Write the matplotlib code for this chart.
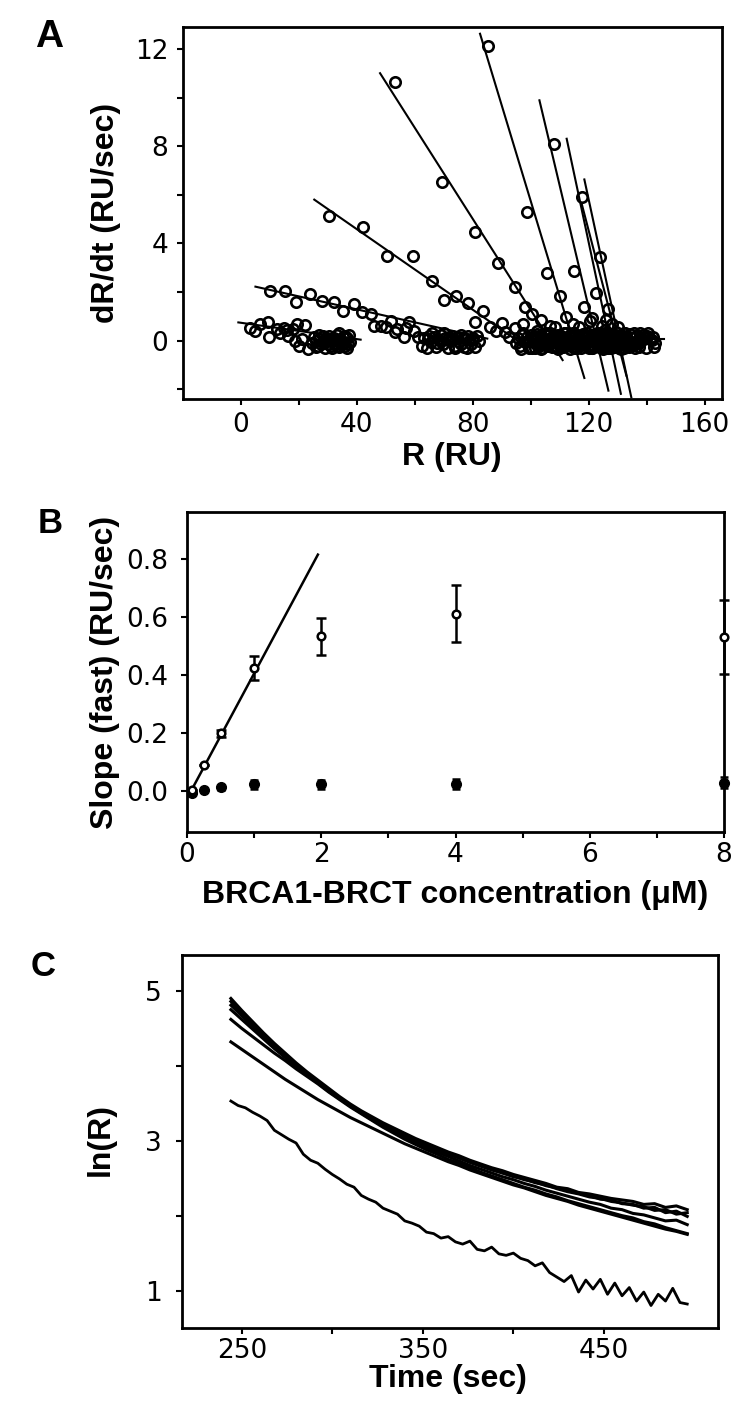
import matplotlib.pyplot as plt
import numpy as np

plt.rcParams['font.family'] = ['Liberation Sans', 'DejaVu Sans']

W, H = 755, 1408

# ---------- panel A data: dR/dt vs R for each concentration ----------
s1_R = [3.1, 4.9, 6.6, 9.5, 9.8, 12.4, 14.7, 16.4, 18.1, 19.3, 22.2, 18.7, 19.9, 23.3, 21.0, 16.0, 13.5,
        24.5, 25.3, 26.0, 26.8, 27.5, 28.2, 28.9, 29.6, 30.3, 31.0, 31.7, 32.4, 33.1, 33.8, 34.5, 35.2,
        35.9, 36.6, 37.3, 37.8, 29.2, 31.5, 33.5, 35.5, 36.5, 27.0, 30.0, 34.0, 37.0, 25.8,
        28.5, 32.0, 34.8, 36.0, 30.8, 26.5, 33.0]
s1_dR = [0.52, 0.38, 0.69, 0.75, 0.14, 0.48, 0.52, 0.21, 0.48, 0.69, 0.66, 0.0, -0.2, -0.34, 0.05, 0.45, 0.3,
         -0.1, 0.15, -0.25, 0.05, -0.15, 0.2, -0.3, 0.0, 0.18, -0.22, 0.08, -0.12, 0.22, -0.28, 0.02, 0.15,
         -0.2, 0.1, 0.25, -0.05, 0.1, -0.3, 0.0, -0.1, -0.3, 0.25, -0.12, 0.3, -0.15, 0.0,
         -0.05, 0.12, -0.15, 0.2, 0.05, -0.2, -0.22]

s2_R = [10.1, 15.3, 19.1, 23.9, 28.0, 32.0, 35.1, 39.0, 41.9, 45.0, 45.9, 48.2, 51.7, 50.0, 54.0, 58.0, 56.3,
        59.8, 61.0, 53.0, 57.0,
        62.5, 63.3, 64.1, 64.9, 65.7, 66.5, 67.3, 68.1, 68.9, 69.7, 70.5, 71.3, 72.1, 72.9, 73.7, 74.5,
        75.3, 76.1, 76.9, 77.7, 78.5, 79.3, 80.1, 80.9, 81.6, 66.0, 70.0, 74.0, 78.0, 82.0,
        64.5, 67.8, 71.8, 75.8, 79.8, 69.0, 73.0, 77.0]
s2_dR = [2.06, 2.03, 1.58, 1.92, 1.62, 1.58, 1.21, 1.51, 1.19, 1.10, 0.62, 0.62, 0.82, 0.55, 0.48, 0.75, 0.14,
         0.41, 0.14, 0.35, 0.5,
         -0.2, 0.1, -0.3, 0.2, -0.05, 0.15, -0.25, 0.05, 0.25, -0.15, 0.1, -0.3, 0.0, 0.2, -0.2, 0.12,
         -0.05, 0.25, -0.28, 0.05, 0.18, -0.15, 0.1, -0.25, 0.2, 0.3, 0.3, -0.3, -0.3, 0.0,
         0.05, -0.1, 0.15, -0.12, 0.02, -0.02, 0.08, 0.1]

s3_R = [30.3, 42.0, 50.5, 59.5, 65.8, 70.0, 74.2, 78.4, 83.4, 80.9, 86.0, 90.0, 91.0, 92.6, 88.0, 94.5,
        95.5, 96.3, 97.1, 97.9, 98.7, 99.5, 100.3, 101.1, 101.9, 102.7, 103.5, 104.3, 105.1, 105.9,
        106.7, 107.5, 108.3, 109.1, 110.0, 96.8, 99.0, 101.5, 104.0, 106.2, 108.8,
        95.0, 97.5, 100.0, 102.3, 104.8, 107.0, 109.5]
s3_dR = [5.14, 4.66, 3.50, 3.50, 2.44, 1.69, 1.82, 1.55, 1.21, 0.75, 0.58, 0.71, 0.34, 0.14, 0.4, 0.5,
         0.1, -0.2, 0.25, -0.05, 0.15, -0.3, 0.05, 0.2, -0.15, 0.0, -0.35, 0.12, 0.22, -0.1,
         0.05, -0.25, 0.15, -0.05, 0.1, -0.35, 0.0, -0.3, -0.15, 0.3, -0.28,
         -0.1, 0.3, 0.25, 0.28, -0.05, 0.0, 0.25]

s4_R = [53.0, 69.4, 80.9, 88.8, 94.5, 98.1, 100.4, 103.4, 102.0, 106.8, 97.5, 105.0,
        100.5, 101.5, 102.5, 103.5, 104.5, 105.5, 106.5, 107.5, 108.5, 109.5, 110.5, 111.5, 112.5,
        113.5, 114.5, 115.5, 116.5, 117.5, 118.5, 103.0, 107.0, 111.0, 115.0,
        101.0, 104.0, 106.0, 108.0, 110.0, 112.0, 114.0, 116.0, 118.0]
s4_dR = [10.63, 6.54, 4.46, 3.18, 2.22, 1.40, 1.10, 0.85, 0.41, 0.62, 0.7, 0.3,
         -0.3, 0.15, -0.1, 0.25, 0.0, -0.2, 0.3, -0.05, 0.1, -0.35, 0.2, 0.0, -0.15,
         0.25, -0.25, 0.05, 0.15, -0.1, 0.0, -0.2, 0.12, -0.28, 0.3,
         0.05, -0.3, -0.1, 0.25, -0.1, 0.3, -0.05, -0.3, 0.28]

s5_R = [85.4, 98.8, 105.5, 110.2, 112.1, 108.5, 114.5,
        108.0, 109.2, 110.4, 111.6, 112.8, 114.0, 115.2, 116.4, 117.6, 118.8, 120.0, 121.2, 122.4,
        123.6, 124.8, 126.0, 127.2, 128.2, 113.4, 119.4, 125.4,
        109.8, 112.2, 114.6, 117.0, 119.4, 121.8, 124.2, 126.6]
s5_dR = [12.11, 5.28, 2.77, 1.85, 0.96, 0.55, 0.7,
         0.2, -0.25, 0.05, 0.3, -0.1, 0.15, -0.3, 0.0, 0.22, -0.18, 0.08, -0.32, 0.18,
         -0.05, 0.25, -0.2, 0.1, 0.0, -0.35, 0.3, -0.32,
         0.0, -0.2, 0.28, -0.12, -0.05, 0.1, -0.3, 0.3]

s6_R = [108.1, 115.0, 118.5, 120.5, 116.5,
        114.0, 115.1, 116.2, 117.3, 118.4, 119.5, 120.6, 121.7, 122.8, 123.9, 125.0, 126.1, 127.2,
        128.3, 129.4, 130.5, 131.6, 132.7, 121.0, 126.5, 131.0,
        114.6, 116.8, 119.0, 121.2, 123.4, 125.6, 127.8, 130.0, 132.2]
s6_dR = [8.07, 2.88, 1.37, 0.8, 0.55,
         -0.15, 0.2, 0.0, -0.3, 0.28, -0.05, 0.12, -0.22, 0.3, 0.02, -0.35, 0.15, -0.1,
         0.25, -0.25, 0.05, 0.2, -0.12, 0.05, -0.3, -0.35,
         0.3, -0.2, 0.18, -0.32, -0.1, 0.28, 0.05, -0.15, 0.3]

s7_R = [117.6, 122.4, 121.0, 124.5, 126.0,
        119.0, 120.1, 121.2, 122.3, 123.4, 124.5, 125.6, 126.7, 127.8, 128.9, 130.0, 131.1, 132.2,
        133.3, 134.4, 135.5, 136.6, 137.7, 129.5, 134.0, 136.0,
        119.6, 121.8, 124.0, 126.2, 128.4, 130.6, 132.8, 135.0, 137.2]
s7_dR = [5.90, 1.96, 0.95, 0.6, 0.85,
         0.1, -0.3, 0.25, -0.05, 0.15, -0.2, 0.3, 0.0, -0.28, 0.18, -0.1, 0.22, -0.32,
         0.08, 0.28, -0.18, 0.0, 0.15, 0.35, -0.05, -0.3,
         -0.2, 0.1, 0.32, -0.15, 0.05, -0.3, 0.15, -0.1, -0.25]

s8_R = [123.9, 126.8, 128.0, 130.0, 125.5,
        123.0, 124.2, 125.4, 126.6, 127.8, 129.0, 130.2, 131.4, 132.6, 133.8, 135.0, 136.2, 137.4,
        138.6, 139.8, 141.0, 142.2, 143.0, 138.0, 140.5, 142.6, 135.6,
        123.6, 125.8, 128.2, 130.8, 133.2, 135.4, 137.8, 140.2, 142.0]
s8_dR = [3.46, 1.30, 0.7, 0.55, 0.45,
         -0.2, 0.3, -0.05, 0.12, -0.3, 0.22, 0.0, -0.15, 0.3, -0.25, 0.1, 0.2, -0.1,
         0.25, -0.3, 0.05, 0.15, -0.1, 0.0, 0.3, -0.25, 0.32,
         0.1, -0.3, 0.05, 0.25, 0.1, -0.18, 0.3, 0.2, 0.02]

# linear fits: slope, intercept, R range
fit_slope = [-0.0168, -0.0267, -0.0828, -0.1873, -0.3933, -0.5017, -0.561, -0.553, -0.4584, 0.0]
fit_icpt = [0.735, 2.354, 7.895, 19.99, 45.07, 61.56, 71.36, 72.16, 59.53, 0.07]
fit_start = [-0.9, 5.0, 25.3, 48.0, 82.5, 103.0, 112.4, 118.5, 117.6, 100.0]
fit_end = [41.3, 85.0, 97.0, 111.0, 118.5, 126.8, 131.1, 134.7, 133.0, 146.0]

# ---------- panel B data ----------
conc = [0.08, 0.25, 0.5, 1, 2, 4, 8]
fast = [0.003, 0.09, 0.20, 0.424, 0.533, 0.611, 0.53]
fast_err = [0.0, 0.0, 0.012, 0.04, 0.063, 0.097, 0.128]
slow = [-0.006, 0.006, 0.013, 0.024, 0.024, 0.025, 0.03]
slow_err = [0.005, 0.006, 0.008, 0.015, 0.015, 0.018, 0.02]
b_fit_slope, b_fit_icpt = 0.43, -0.025
b_fit_range = [0.02, 1.95]

# ---------- panel C data: ln(R) traces ----------
t = [244, 250, 256, 262, 268, 274, 280, 286, 292, 298, 304, 310, 316, 322, 328, 334, 340, 346, 352,
     358, 364, 370, 376, 382, 388, 394, 400, 406, 412, 418, 424, 430, 436, 442, 448, 454, 460, 466,
     472, 478, 484, 490, 496]
c1 = [4.90, 4.74, 4.59, 4.44, 4.30, 4.17, 4.04, 3.92, 3.81, 3.70, 3.59, 3.49, 3.40, 3.32, 3.24, 3.17,
      3.10, 3.03, 2.97, 2.91, 2.85, 2.80, 2.74, 2.69, 2.64, 2.60, 2.55, 2.51, 2.47, 2.43, 2.38, 2.36,
      2.31, 2.29, 2.26, 2.23, 2.21, 2.19, 2.15, 2.16, 2.11, 2.13, 2.08]
c2 = [4.86, 4.71, 4.56, 4.42, 4.28, 4.15, 4.02, 3.90, 3.79, 3.68, 3.57, 3.47, 3.38, 3.30, 3.22, 3.14,
      3.07, 3.00, 2.94, 2.88, 2.82, 2.77, 2.71, 2.66, 2.61, 2.57, 2.52, 2.49, 2.44, 2.41, 2.36, 2.32,
      2.29, 2.25, 2.23, 2.19, 2.17, 2.14, 2.12, 2.07, 2.08, 2.02, 2.04]
c3 = [4.81, 4.67, 4.53, 4.39, 4.26, 4.13, 4.01, 3.89, 3.78, 3.67, 3.57, 3.47, 3.38, 3.29, 3.22, 3.14,
      3.07, 3.01, 2.95, 2.88, 2.83, 2.77, 2.72, 2.67, 2.62, 2.57, 2.53, 2.48, 2.45, 2.40, 2.37, 2.33,
      2.30, 2.27, 2.22, 2.21, 2.16, 2.15, 2.10, 2.11, 2.04, 2.06, 1.99]
c4 = [4.75, 4.62, 4.49, 4.36, 4.23, 4.11, 3.99, 3.88, 3.77, 3.66, 3.56, 3.46, 3.37, 3.28, 3.20, 3.12,
      3.05, 2.98, 2.91, 2.85, 2.79, 2.73, 2.67, 2.62, 2.57, 2.52, 2.48, 2.43, 2.39, 2.34, 2.30, 2.26,
      2.22, 2.18, 2.15, 2.10, 2.08, 2.03, 2.01, 1.97, 1.93, 1.94, 1.88]
c5 = [4.62, 4.50, 4.39, 4.28, 4.17, 4.07, 3.96, 3.86, 3.76, 3.65, 3.55, 3.45, 3.36, 3.27, 3.18, 3.10,
      3.02, 2.95, 2.88, 2.82, 2.75, 2.70, 2.64, 2.58, 2.53, 2.48, 2.43, 2.38, 2.34, 2.29, 2.25, 2.20,
      2.16, 2.12, 2.08, 2.04, 2.00, 1.97, 1.92, 1.89, 1.84, 1.80, 1.76]
c6 = [4.32, 4.22, 4.12, 4.02, 3.92, 3.82, 3.73, 3.64, 3.55, 3.47, 3.39, 3.31, 3.24, 3.17, 3.10, 3.03,
      2.96, 2.90, 2.84, 2.78, 2.72, 2.67, 2.61, 2.56, 2.51, 2.46, 2.41, 2.37, 2.32, 2.27, 2.23, 2.19,
      2.14, 2.10, 2.06, 2.02, 1.98, 1.94, 1.90, 1.86, 1.82, 1.79, 1.75]
# lowest trace is noisier, read on a finer time grid
t7 = [244, 248, 252, 256, 260, 264, 268, 272, 276, 280, 284, 288, 292, 296, 300, 304, 308, 312, 316,
      320, 324, 328, 332, 336, 340, 344, 348, 352, 356, 360, 364, 368, 372, 376, 380, 384, 388, 392,
      396, 400, 404, 408, 412, 416, 420, 424, 428, 432, 436, 440, 444, 448, 452, 456, 460, 464, 468,
      472, 476, 480, 484, 488, 492, 496]
c7 = [3.53, 3.47, 3.44, 3.38, 3.33, 3.27, 3.14, 3.08, 3.02, 2.97, 2.82, 2.74, 2.70, 2.62, 2.55, 2.49,
      2.42, 2.38, 2.27, 2.22, 2.18, 2.10, 2.06, 2.02, 1.93, 1.90, 1.86, 1.78, 1.76, 1.70, 1.72, 1.65,
      1.62, 1.66, 1.55, 1.53, 1.58, 1.49, 1.47, 1.50, 1.43, 1.40, 1.33, 1.37, 1.24, 1.18, 1.12, 1.20,
      0.98, 1.14, 1.02, 1.15, 0.95, 1.10, 0.93, 1.04, 0.86, 0.98, 0.80, 0.95, 0.86, 1.03, 0.84, 0.82]

TICK_FONT = 'DejaVu Sans'
TICK_FS = 19
LABEL_FS = 23


def axes_at(left, top, right, bottom):
    return fig.add_axes([left / W, 1 - bottom / H, (right - left) / W, (bottom - top) / H])


def style(ax, pad_x, pad_y):
    for sp in ax.spines.values():
        sp.set_linewidth(2)
    ax.tick_params(which='both', direction='out', width=1.5, length=4.5, labelsize=TICK_FS)
    ax.tick_params(axis='x', pad=pad_x)
    ax.tick_params(axis='y', pad=pad_y)
    for lab in ax.get_xticklabels() + ax.get_yticklabels():
        lab.set_family(TICK_FONT)


def ftext(x, y, s, **kw):
    fig.text(x / W, 1 - y / H, s, ha='center', va='center', **kw)


fig = plt.figure(figsize=(W / 100, H / 100), dpi=100)

# ---------------- A ----------------
axA = axes_at(183, 27, 722, 399)
series = [(s1_R, s1_dR), (s2_R, s2_dR), (s3_R, s3_dR), (s4_R, s4_dR),
          (s5_R, s5_dR), (s6_R, s6_dR), (s7_R, s7_dR), (s8_R, s8_dR)]
for k, b, x0, x1 in zip(fit_slope, fit_icpt, fit_start, fit_end):
    xs = np.array([x0, x1])
    axA.plot(xs, b + k * xs, color='black', lw=1.5, zorder=2)
for R, dR in series:
    axA.plot(R, dR, linestyle='none', marker='o', ms=7.5, mfc='none', mec='black', mew=1.9, zorder=3)
axA.set_xlim(-20, 166)
axA.set_ylim(-2.4, 12.9)
axA.set_xticks([0, 40, 80, 120, 160])
axA.set_xticks([20, 60, 100, 140], minor=True)
axA.set_yticks([0, 4, 8, 12])
axA.set_yticks([-2, 2, 6, 10], minor=True)
style(axA, 5, 6)
ftext(106, 213, 'dR/dt (RU/sec)', rotation=90, fontsize=LABEL_FS, fontweight='bold')
ftext(452, 457, 'R (RU)', fontsize=LABEL_FS, fontweight='bold')
ftext(49, 37, 'A', fontsize=28, fontweight='bold')

# ---------------- B ----------------
axB = axes_at(187, 512, 724, 832)
fx = np.array(b_fit_range)
axB.plot(fx, b_fit_icpt + b_fit_slope * fx, color='black', lw=1.8, zorder=2)
axB.errorbar(conc, slow, yerr=slow_err, fmt='o', ms=7, color='black', mfc='black',
             elinewidth=1.8, capsize=3, capthick=1.8, clip_on=False, zorder=3)
axB.errorbar(conc, fast, yerr=fast_err, fmt='o', ms=5.5, color='black', mfc='white', mew=1.8,
             elinewidth=1.8, capsize=3.5, capthick=1.8, clip_on=False, zorder=4)
axB.set_xlim(0, 8)
axB.set_ylim(-0.14, 0.96)
axB.set_xticks([0, 2, 4, 6, 8])
axB.set_xticks([1, 3, 5, 7], minor=True)
axB.set_yticks([0.0, 0.2, 0.4, 0.6, 0.8])
axB.set_yticklabels(['0.0', '0.2', '0.4', '0.6', '0.8'])
style(axB, 3, 9)
ftext(105, 672, 'Slope (fast) (RU/sec)', rotation=90, fontsize=LABEL_FS, fontweight='bold')
ftext(455, 895, 'BRCA1-BRCT concentration (\u03bcM)', fontsize=LABEL_FS, fontweight='bold')
ftext(50, 524, 'B', fontsize=25, fontweight='bold')

# ---------------- C ----------------
axC = axes_at(182, 955, 718, 1328)
axC.plot(t7, c7, color='black', lw=2)
for c in (c6, c5, c4, c3, c2, c1):
    axC.plot(t, c, color='black', lw=2.2)
axC.set_xlim(217, 513)
axC.set_ylim(0.5, 5.48)
axC.set_xticks([250, 350, 450])
axC.set_xticks([300, 400], minor=True)
axC.set_yticks([1, 3, 5])
axC.set_yticks([2, 4], minor=True)
style(axC, 3, 10)
ftext(101, 1140, 'ln(R)', rotation=90, fontsize=LABEL_FS, fontweight='bold')
ftext(448, 1379, 'Time (sec)', fontsize=LABEL_FS, fontweight='bold')
ftext(43, 967, 'C', fontsize=25, fontweight='bold')

fig.savefig('out.png', dpi=100)
